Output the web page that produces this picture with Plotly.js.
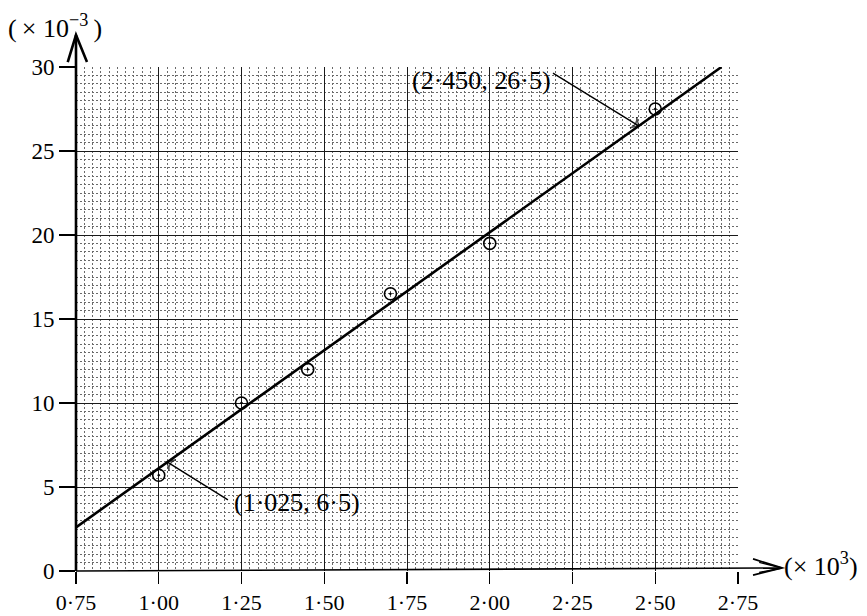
<!DOCTYPE html>
<html>
<head>
<meta charset="utf-8">
<script src="https://cdn.plot.ly/plotly-3.0.1.min.js"></script>
<style>html,body{margin:0;padding:0;background:#fff;}#chart{width:867px;height:616px;}</style>
</head>
<body>
<div id="chart"></div>
<script>
// ---- data ----
var pointX = [1.00, 1.25, 1.45, 1.70, 2.00, 2.50];      // (x 10^3)
var pointY = [5.7, 10.0, 12.0, 16.5, 19.5, 27.5];       // (x 10^-3)
var lineX = [0.75, 2.70];
var lineY = [2.6, 30.0];
var annotX = [2.450, 1.025];
var annotY = [26.5, 6.5];
var annotText = ['(2·450, 26·5)', '(1·025, 6·5)'];
var xTickVals = [0.75, 1.00, 1.25, 1.50, 1.75, 2.00, 2.25, 2.50, 2.75];
var xTickText = ['0·75', '1·00', '1·25', '1·50', '1·75', '2·00', '2·25', '2·50', '2·75'];
var yTickVals = [0, 5, 10, 15, 20, 25, 30];
var yTickText = ['0', '5', '10', '15', '20', '25', '30'];

var FONT = '"Liberation Serif", serif';

// label placement (layout, not data)
var labelPos = [{x: 1.975, y: 29.2, tx: 2.191, ty: 29.64}, {x: 1.418, y: 4.05, tx: 1.209, ty: 4.23}];

var traces = [
  {x: lineX, y: lineY, mode: 'lines', type: 'scatter',
   line: {color: '#000', width: 2.6}, hoverinfo: 'skip', showlegend: false},
  {x: pointX, y: pointY, mode: 'markers', type: 'scatter',
   marker: {symbol: 'circle-open-dot', size: 12, color: '#000', line: {width: 1.6, color: '#000'}},
   showlegend: false, cliponaxis: false}
];
// leader arrows from each label to its point on the line
for (var i = 0; i < annotX.length; i++) {
  traces.push({
    x: [labelPos[i].tx, annotX[i]], y: [labelPos[i].ty, annotY[i]],
    mode: 'lines+markers', type: 'scatter', showlegend: false, hoverinfo: 'skip', cliponaxis: false,
    line: {color: '#000', width: 1.4},
    marker: {symbol: ['circle', 'arrow-wide-open'], size: [0, 9], angleref: 'previous', color: '#000', line: {width: 1.4, color: '#000'}}
  });
}

var layout = {
  width: 867, height: 616,
  margin: {l: 76, r: 129, t: 67, b: 45, pad: 0},
  paper_bgcolor: '#fff', plot_bgcolor: '#fff',
  font: {family: FONT, size: 22, color: '#000'},
  showlegend: false,
  xaxis: {
    range: [0.75, 2.75], tickmode: 'array', tickvals: xTickVals, ticktext: xTickText,
    ticks: 'outside', ticklen: 12, tickwidth: 1.4, tickcolor: '#000',
    tickfont: {family: FONT, size: 22, color: '#000'},
    showgrid: true, gridcolor: '#1a1a1a', gridwidth: 1,
    minor: {tickmode: 'linear', tick0: 0.75, dtick: 0.025, showgrid: true, gridcolor: '#6a6a6a', griddash: '2px,2px', gridwidth: 1},
    zeroline: false, showline: false, fixedrange: true
  },
  yaxis: {
    range: [0, 30], tickmode: 'array', tickvals: yTickVals, ticktext: yTickText,
    ticks: 'outside', ticklen: 16, tickwidth: 1.2, tickcolor: '#000',
    tickfont: {family: FONT, size: 23, color: '#000'},
    showgrid: true, gridcolor: '#1a1a1a', gridwidth: 1,
    minor: {tickmode: 'linear', tick0: 0, dtick: 0.5, showgrid: true, gridcolor: '#6a6a6a', griddash: '2px,2px', gridwidth: 1},
    zeroline: false, showline: false, fixedrange: true
  },
  shapes: [
    // y axis with arrow
    {type: 'line', xref: 'paper', yref: 'paper', x0: 0, y0: 0, x1: 0, y1: 1.0635, line: {color: '#000', width: 2.6}},
    {type: 'path', xref: 'paper', yref: 'paper', path: 'M -0.0125,1.0099 L 0,1.0635 L 0.0166,1.0099', line: {color: '#000', width: 2.6}},
    // x axis with arrow
    {type: 'line', xref: 'paper', yref: 'paper', x0: 0, y0: 0, x1: 1.064, y1: 0.006, line: {color: '#000', width: 1.6}},
    {type: 'path', xref: 'paper', yref: 'paper', path: 'M 1.0227,0.024 L 1.0665,0.006 L 1.0227,-0.008', line: {color: '#000', width: 1.8}},
    {type: 'path', xref: 'paper', yref: 'paper', path: 'M 1.032,0.017 L 1.0665,0.006 L 1.032,-0.003', line: {color: '#000', width: 1.4}}
  ],
  annotations: [
    // axis multipliers
    {xref: 'paper', yref: 'paper', x: -0.106, y: 1.081, xanchor: 'left', yanchor: 'middle',
     text: '(\u2009× 10<sup>−3</sup>\u2009)', showarrow: false, font: {family: FONT, size: 26, color: '#000'}},
    {xref: 'paper', yref: 'paper', x: 1.066, y: 0.012, xanchor: 'left', yanchor: 'middle',
     text: '(× 10<sup>3</sup>)', showarrow: false, font: {family: FONT, size: 26, color: '#000'}},
    // labels for the two points on the line
    {x: labelPos[0].x, y: labelPos[0].y, xref: 'x', yref: 'y', text: annotText[0], showarrow: false,
     font: {family: FONT, size: 26, color: '#000'}},
    {x: labelPos[1].x, y: labelPos[1].y, xref: 'x', yref: 'y', text: annotText[1], showarrow: false,
     font: {family: FONT, size: 26, color: '#000'}}
  ]
};

Plotly.newPlot('chart', traces, layout, {displayModeBar: false, staticPlot: true});
</script>
</body>
</html>
